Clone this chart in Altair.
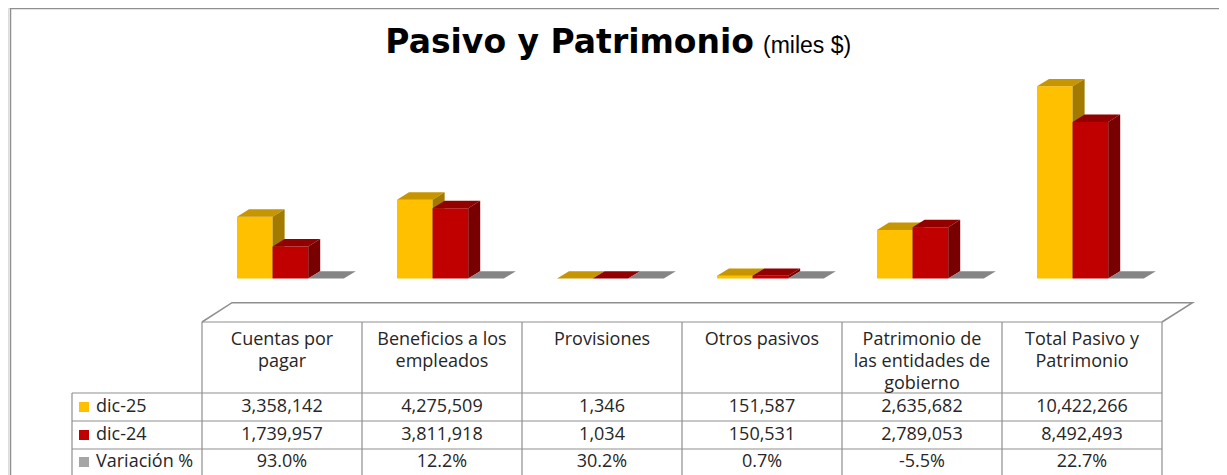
import altair as alt
import pandas as pd

# ---------------- data ----------------
categories = ["Cuentas por pagar", "Beneficios a los empleados", "Provisiones",
              "Otros pasivos", "Patrimonio de las entidades de gobierno",
              "Total Pasivo y Patrimonio"]
header_labels = ["Cuentas por\npagar", "Beneficios a los\nempleados", "Provisiones",
                 "Otros pasivos", "Patrimonio de\nlas entidades de\ngobierno",
                 "Total Pasivo y\nPatrimonio"]
dic25 = [3358142, 4275509, 1346, 151587, 2635682, 10422266]
dic24 = [1739957, 3811918, 1034, 150531, 2789053, 8492493]
variacion = [93.0, 12.2, 30.2, 0.7, -5.5, 22.7]
series_names = ["dic-25", "dic-24", "Variación %"]

# ---------------- layout / style ----------------
W, H = 1211, 467
COL_PX = 160.0          # width of one category column
COL0_PX = 194.0         # left edge of first column (svg px)
XDOM = [-COL0_PX / COL_PX, (W - COL0_PX) / COL_PX]
BASE_PX = 270.6         # baseline of bars (svg px)
PX_PER_UNIT = 18.45e-6  # pixels per thousand $
YDOM = [(BASE_PX - H) / PX_PER_UNIT, BASE_PX / PX_PER_UNIT]
BAR_OFF = 35.0 / COL_PX
BAR_W = 35.6 / COL_PX
DX = 12.0 / COL_PX
DV = 7.4 / PX_PER_UNIT

colors = {
    "dic-25": ("#FFC000", "#C69500", "#A27A00"),
    "dic-24": ("#C00000", "#930000", "#780000"),
    "Variación %": ("#A5A5A5", "#858585", "#6E6E6E"),
}
GRID = "#8f8f8f"
TXT = "#262626"
TFONT = "Open Sans"
TSIZE = 18

xs = alt.Scale(domain=XDOM, nice=False, zero=False)
ys = alt.Scale(domain=YDOM, nice=False, zero=False)

series_values = [dic25, dic24, [v / 100.0 for v in variacion]]

layers = []

# ---------------- 3D bars ----------------
for s, (name, vals) in enumerate(zip(series_names, series_values)):
    front_c, top_c, side_c = colors[name]
    front, top, side = [], [], []
    for i, v in enumerate(vals):
        x1 = i + BAR_OFF + s * BAR_W
        x2 = x1 + BAR_W
        front.append({"id": i, "x1": x1, "x2": x2, "y0": 0.0, "v": v})
        top.append({"id": i, "ty": v, "tx1": x1, "tx2": x2})
        top.append({"id": i, "ty": v + DV, "tx1": x1 + DX, "tx2": x2 + DX})
        side.append({"id": i, "sx": x2, "sy": 0.0, "sy2": v})
        side.append({"id": i, "sx": x2 + DX, "sy": DV, "sy2": v + DV})
    layers.append(
        alt.Chart(pd.DataFrame(front)).mark_rect(color=front_c).encode(
            x=alt.X("x1:Q", scale=xs, axis=None), x2="x2:Q",
            y=alt.Y("y0:Q", scale=ys, axis=None), y2="v:Q"))
    layers.append(
        alt.Chart(pd.DataFrame(top)).mark_area(color=top_c, orient="horizontal").encode(
            y=alt.Y("ty:Q", scale=ys, axis=None),
            x=alt.X("tx1:Q", scale=xs, axis=None, stack=None), x2="tx2:Q",
            detail="id:N"))
    layers.append(
        alt.Chart(pd.DataFrame(side)).mark_area(color=side_c, orient="vertical").encode(
            x=alt.X("sx:Q", scale=xs, axis=None),
            y=alt.Y("sy:Q", scale=ys, axis=None, stack=None), y2="sy2:Q",
            detail="id:N"))

# ---------------- data table ----------------
n = len(categories)
LBL_X = -130.0 / COL_PX
HDR_TOP = 314.0
ROW_LINES = [385.0, 413.0, 441.0, 469.0]
ROW_CENTERS = [399.0, 427.0, 454.0]

grid = [{"gx": 0.0, "gx2": float(n), "gy": HDR_TOP, "gy2": HDR_TOP}]
for yl in ROW_LINES:
    grid.append({"gx": LBL_X, "gx2": float(n), "gy": yl, "gy2": yl})
for i in range(n + 1):
    grid.append({"gx": float(i), "gx2": float(i), "gy": HDR_TOP, "gy2": float(H)})
grid.append({"gx": LBL_X, "gx2": LBL_X, "gy": ROW_LINES[0], "gy2": float(H)})
layers.append(
    alt.Chart(pd.DataFrame(grid)).mark_rule(color=GRID, strokeWidth=1.2).encode(
        x=alt.X("gx:Q", scale=xs, axis=None), x2="gx2:Q",
        y=alt.Y("gy:Q", scale=None, axis=None), y2="gy2:Q"))

floor = pd.DataFrame({
    "fx": [0.0, 30.0 / COL_PX, n + 30.5 / COL_PX, float(n)],
    "fy": [HDR_TOP, HDR_TOP - 19.3, HDR_TOP - 19.3, HDR_TOP],
    "o": [0, 1, 2, 3]})
layers.append(
    alt.Chart(floor).mark_line(color=GRID, strokeWidth=1.5).encode(
        x=alt.X("fx:Q", scale=xs, axis=None),
        y=alt.Y("fy:Q", scale=None, axis=None), order="o:Q"))

hdr = pd.DataFrame({"hx": [i + 0.5 for i in range(n)], "hy": [HDR_TOP + 9] * n,
                    "t": header_labels})
layers.append(
    alt.Chart(hdr).mark_text(lineBreak="\n", baseline="top", align="center",
                             fontSize=TSIZE, font=TFONT, color=TXT, lineHeight=22).encode(
        x=alt.X("hx:Q", scale=xs, axis=None),
        y=alt.Y("hy:Q", scale=None, axis=None), text="t:N"))

cells = []
for r, vals in enumerate([dic25, dic24]):
    for i, v in enumerate(vals):
        cells.append({"cx": i + 0.5, "cy": ROW_CENTERS[r], "t": f"{v:,}"})
for i, v in enumerate(variacion):
    cells.append({"cx": i + 0.5, "cy": ROW_CENTERS[2], "t": f"{v:.1f}%"})
layers.append(
    alt.Chart(pd.DataFrame(cells)).mark_text(baseline="middle", align="center",
                                             fontSize=TSIZE, font=TFONT, color=TXT).encode(
        x=alt.X("cx:Q", scale=xs, axis=None),
        y=alt.Y("cy:Q", scale=None, axis=None), text="t:N"))

leg = pd.DataFrame({"lx": [LBL_X + 12.0 / COL_PX] * 3, "tx": [LBL_X + 24.0 / COL_PX] * 3,
                    "ly": ROW_CENTERS, "name": series_names})
layers.append(
    alt.Chart(leg).mark_square(size=100, opacity=1).encode(
        x=alt.X("lx:Q", scale=xs, axis=None),
        y=alt.Y("ly:Q", scale=None, axis=None),
        color=alt.Color("name:N", scale=alt.Scale(domain=series_names,
                        range=[colors[k][0] for k in series_names]), legend=None)))
layers.append(
    alt.Chart(leg).mark_text(baseline="middle", align="left", fontSize=TSIZE,
                             font=TFONT, color=TXT).encode(
        x=alt.X("tx:Q", scale=xs, axis=None),
        y=alt.Y("ly:Q", scale=None, axis=None), text="name:N"))

# ---------------- frame and title ----------------
dummy = pd.DataFrame({"a": [0]})
layers.append(alt.Chart(dummy).mark_rule(color=GRID, strokeWidth=1.5).encode(
    x=alt.value(2.5), y=alt.value(0), y2=alt.value(H)))
layers.append(alt.Chart(dummy).mark_rule(color=GRID, strokeWidth=1.5).encode(
    x=alt.value(2.5), x2=alt.value(W), y=alt.value(0.5)))
layers.append(alt.Chart(dummy).mark_text(text="Pasivo y Patrimonio", font="DejaVu Sans",
                                         fontWeight="bold", fontSize=33, align="right",
                                         baseline="alphabetic", color="#000000").encode(
    x=alt.value(746), y=alt.value(45)))
layers.append(alt.Chart(dummy).mark_text(text="(miles $)", font="Liberation Sans",
                                         fontSize=23, align="left",
                                         baseline="alphabetic", color="#000000").encode(
    x=alt.value(755), y=alt.value(45)))

chart = alt.layer(*layers).resolve_scale(y="independent").properties(
    width=W, height=H, autosize=alt.AutoSizeParams(type="none"), padding=0
).configure_view(stroke=None).configure(background="white")

chart.save("out.html", embed_options={"renderer": "svg", "actions": False})
